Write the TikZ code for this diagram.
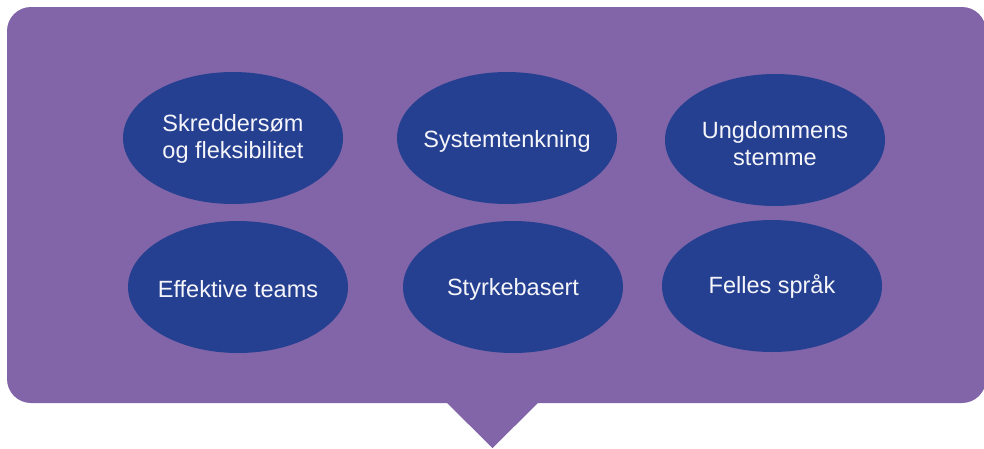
\documentclass[tikz,border=0pt]{standalone}
\usepackage{fontspec}
\setmainfont{Liberation Sans}
\usetikzlibrary{shapes.geometric}
\definecolor{bgpurple}{RGB}{129,101,168}
\definecolor{ellblue}{RGB}{37,64,144}
\definecolor{txtwhite}{RGB}{245,245,250}
\begin{document}
\begin{tikzpicture}[x=1pt,y=-1pt,
  bubble/.style={ellipse, fill=ellblue, minimum width=220pt, minimum height=132pt, inner sep=0pt},
  lbl/.style={inner sep=0pt, text=txtwhite, font=\fontsize{23.5}{27}\selectfont, align=center},
  panel/.style={fill=bgpurple, rounded corners=24pt}]
\useasboundingbox (0,0) rectangle (984,448);
\fill[panel] (7,7) rectangle (986,403);
\fill[bgpurple] (444,400) -- (541,400) -- (492.5,448) -- cycle;
\node[bubble] (e1) at (233,138) {};
\node[bubble] (e2) at (507,138) {};
\node[bubble] (e3) at (775,140) {};
\node[bubble] (e4) at (238,287) {};
\node[bubble] (e5) at (513,287) {};
\node[bubble] (e6) at (772,286) {};
\node[lbl] (t1) at ([yshift=-1pt]e1.center) {Skreddersøm\\og fleksibilitet};
\node[lbl] (t2) at ([yshift=-3pt]e2.center) {Systemtenkning};
\node[lbl] (t3) at ([yshift=-4pt]e3.center) {Ungdommens\\stemme};
\node[lbl] (t4) at ([yshift=-2pt]e4.center) {Effektive teams};
\node[lbl] (t5) at ([yshift=-2pt]e5.center) {Styrkebasert};
\node[lbl] (t6) at ([yshift=0pt]e6.center) {Felles språk};
\end{tikzpicture}
\end{document}
